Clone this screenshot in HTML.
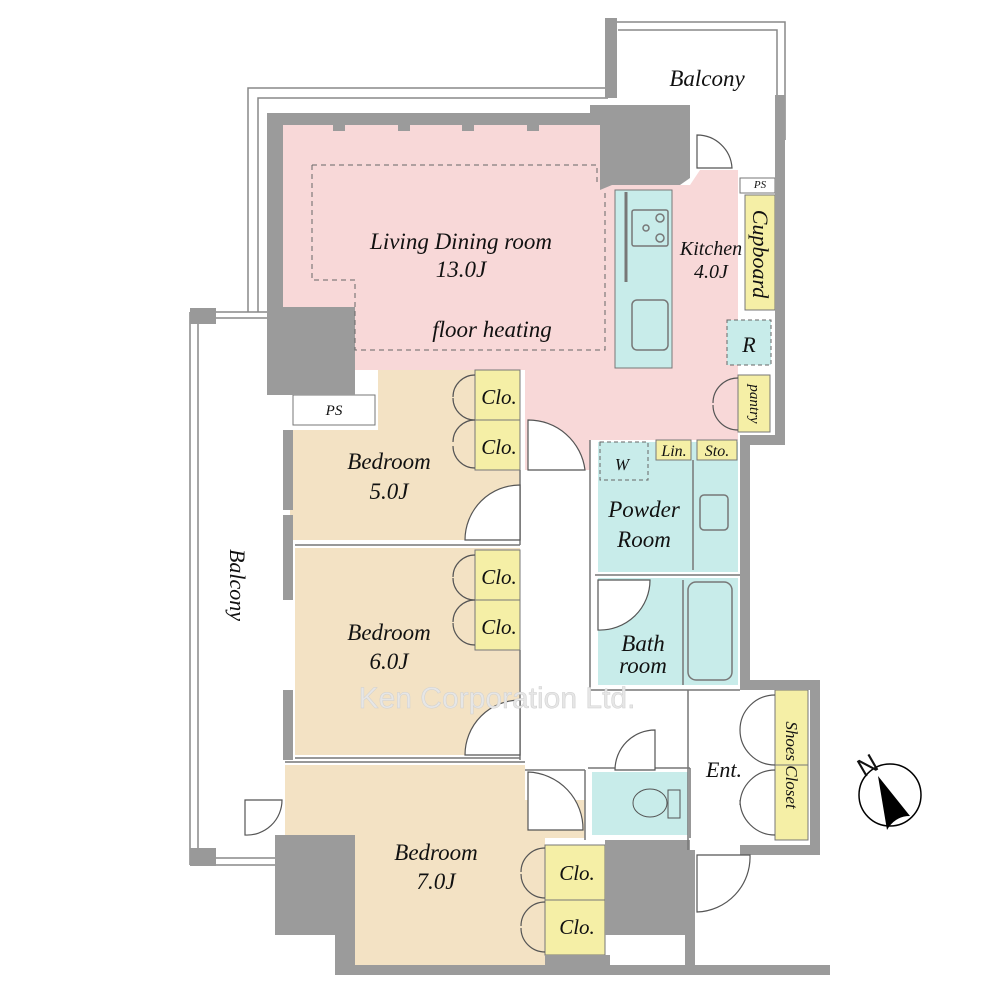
<!DOCTYPE html>
<html><head><meta charset="utf-8"><style>
html,body{margin:0;padding:0;background:#fff}
svg{display:block}
text{font-family:"Liberation Serif",serif;font-style:italic;fill:#111}
</style></head><body>
<svg width="1000" height="1000" viewBox="0 0 1000 1000" xmlns="http://www.w3.org/2000/svg">
<g fill="none" stroke="#888" stroke-width="1.5">
<path d="M248,312 V88 H608"/><path d="M258,312 V98 H608"/>
<path d="M612,22 H785 V140"/><path d="M618,30 H777 V165"/>
<path d="M190,312 V865 M198,318 V858 M190,312 H268 M198,318 H268 M208,858 H283 M208,865 H283"/>
</g>
<rect x="190" y="308" width="26" height="16" fill="#999"/>
<rect x="190" y="848" width="26" height="18" fill="#999"/>
<rect x="605" y="18" width="12" height="80" fill="#999"/>

<polygon points="283,125 600,125 600,185 690,185 700,170 738,170 738,440 590,440 590,470 525,470 525,370 355,370 355,310 283,310" fill="#f8d8d8"/>
<polygon points="290,430 378,430 378,370 520,370 520,540 290,540" fill="#f3e2c4"/>
<rect x="295" y="548" width="225" height="207" fill="#f3e2c4"/>
<polygon points="285,765 525,765 525,800 585,800 585,838 545,838 545,965 355,965 355,935 300,935 300,838 285,838" fill="#f3e2c4"/>
<rect x="598" y="442" width="140" height="130" fill="#c8ecea"/>
<rect x="598" y="578" width="140" height="107" fill="#c8ecea"/>
<rect x="592" y="772" width="96" height="63" fill="#c8ecea"/>
<rect x="615" y="190" width="57" height="178" fill="#c8ecea" stroke="#777"/>
<rect x="727" y="320" width="44" height="45" fill="#c8ecea" stroke="#666" stroke-dasharray="4,3"/>
<g fill="#f5efa6" stroke="#777">
<rect x="745" y="195" width="30" height="115"/>
<rect x="738" y="375" width="32" height="57"/>
<rect x="475" y="370" width="45" height="100"/>
<rect x="475" y="550" width="45" height="100"/>
<rect x="545" y="845" width="60" height="110"/>
<rect x="775" y="690" width="33" height="150"/>
<rect x="656" y="440" width="35" height="20"/>
<rect x="697" y="440" width="40" height="20"/>
</g>
<g stroke="#777"><path d="M475,420 H520 M475,600 H520 M545,900 H605 M775,765 H808"/></g>
<rect x="740" y="178" width="35" height="15" fill="#fff" stroke="#777"/>
<rect x="293" y="395" width="82" height="30" fill="#fff" stroke="#777"/>

<g fill="#9b9b9b">
<rect x="267" y="113" width="16" height="200"/>
<rect x="267" y="113" width="335" height="12"/>
<polygon points="590,105 690,105 690,178 680,185 612,185 600,190 600,125 590,125"/>
<rect x="267" y="307" width="88" height="88"/>
<rect x="775" y="95" width="10" height="348"/>
<rect x="740" y="435" width="45" height="10"/>
<rect x="740" y="440" width="10" height="250"/>
<rect x="740" y="680" width="80" height="10"/>
<rect x="810" y="680" width="10" height="175"/>
<rect x="740" y="845" width="80" height="10"/>
<rect x="283" y="430" width="10" height="80"/>
<rect x="283" y="515" width="10" height="85"/>
<rect x="283" y="690" width="10" height="70"/>
<rect x="275" y="835" width="80" height="100"/>
<rect x="335" y="930" width="20" height="45"/>
<rect x="335" y="965" width="495" height="10"/>
<rect x="605" y="840" width="85" height="95"/>
<rect x="685" y="850" width="10" height="115"/>
<rect x="545" y="955" width="65" height="12"/>
</g>
<g fill="#9b9b9b"><rect x="333" y="113" width="12" height="18"/><rect x="398" y="113" width="12" height="18"/><rect x="462" y="113" width="12" height="18"/><rect x="527" y="113" width="12" height="18"/><rect x="267" y="178" width="14" height="14"/><rect x="267" y="243" width="14" height="14"/></g>

<g fill="none" stroke="#777" stroke-width="1.5">
<path d="M520,470 V545 M295,545 H520 M295,758 H520 M520,650 V760 M285,762 H525 M525,770 H585 M585,770 V840"/>
<path d="M590,440 V690 H740 M595,575 H740 M688,690 V850 M690,768 V838 M588,768 H690"/>
<path d="M693,460 V570 M683,580 V685"/>
<rect x="688" y="582" width="44" height="98" rx="8"/>
<rect x="700" y="495" width="28" height="35" rx="4"/>
<rect x="632" y="210" width="36" height="36" rx="2"/>
<circle cx="660" cy="218" r="4"/><circle cx="660" cy="238" r="4"/><circle cx="646" cy="228" r="3"/>
<rect x="632" y="300" width="36" height="50" rx="5"/>
<path d="M626,192 V282" stroke-width="3"/>
</g>
<rect x="600" y="442" width="48" height="38" fill="none" stroke="#666" stroke-dasharray="4,3"/>
<path d="M312,165 H597 V185 M312,165 V280 H355 V350 H605 V190" fill="none" stroke="#666" stroke-dasharray="5,4"/>
<g fill="#fff" stroke="#555" stroke-width="1.2">
<path d="M528,420 V470 H585 A57,57 0 0 0 528,420 Z"/>
<path d="M520,485 A55,55 0 0 0 465,540 H520 Z"/>
<path d="M520,700 A55,55 0 0 0 465,755 H520 Z"/>
<path d="M528,772 V830 H583 A57,57 0 0 0 528,772 Z"/>
<path d="M598,580 V630 A50,50 0 0 0 650,580 Z"/>
<path d="M615,770 A40,40 0 0 1 655,730 V770 Z"/>
<path d="M697,855 V912 A55,55 0 0 0 750,855 Z"/>
<path d="M282,800 A35,35 0 0 1 245,835 V800 Z" fill="none"/>
<path d="M697,135 V168 H732 A35,35 0 0 0 697,135 Z"/>
</g>
<g fill="none" stroke="#555" stroke-width="1.2">
<path d="M475,375 a22,22 0 0 0 -22,22 M475,420 a22,22 0 0 1 -22,-22 M475,420 a22,22 0 0 0 -22,22 M475,468 a22,22 0 0 1 -22,-22"/>
<path d="M475,555 a22,22 0 0 0 -22,22 M475,600 a22,22 0 0 1 -22,-22 M475,600 a22,22 0 0 0 -22,22 M475,645 a22,22 0 0 1 -22,-22"/>
<path d="M545,848 a24,24 0 0 0 -24,24 M545,898 a24,24 0 0 1 -24,-24 M545,902 a24,24 0 0 0 -24,24 M545,952 a24,24 0 0 1 -24,-24"/>
<path d="M775,695 a35,35 0 0 0 -35,35 M775,765 a35,35 0 0 1 -35,-35 M775,770 a35,35 0 0 0 -35,35 M775,835 a35,35 0 0 1 -35,-35"/>
<path d="M738,378 a25,25 0 0 0 -25,25 M738,430 a25,25 0 0 1 -25,-25"/>
</g>
<ellipse cx="650" cy="803" rx="17" ry="14" fill="none" stroke="#555"/>
<rect x="668" y="790" width="12" height="28" fill="none" stroke="#555"/>

<text x="461" y="249" font-size="23" text-anchor="middle">Living Dining room</text>
<text x="461" y="277" font-size="23" text-anchor="middle">13.0J</text>
<text x="492" y="337" font-size="23" text-anchor="middle">floor heating</text>
<text x="711" y="255" font-size="20" text-anchor="middle">Kitchen</text>
<text x="711" y="278" font-size="20" text-anchor="middle">4.0J</text>
<text x="707" y="86" font-size="23" text-anchor="middle">Balcony</text>
<text x="749" y="352" font-size="22" text-anchor="middle">R</text>
<text x="760" y="188" font-size="11" text-anchor="middle">PS</text>
<text x="334" y="415" font-size="15" text-anchor="middle">PS</text>
<text x="499" y="404" font-size="21" text-anchor="middle">Clo.</text>
<text x="499" y="454" font-size="21" text-anchor="middle">Clo.</text>
<text x="499" y="584" font-size="21" text-anchor="middle">Clo.</text>
<text x="499" y="634" font-size="21" text-anchor="middle">Clo.</text>
<text x="577" y="880" font-size="21" text-anchor="middle">Clo.</text>
<text x="577" y="934" font-size="21" text-anchor="middle">Clo.</text>
<text x="389" y="469" font-size="23" text-anchor="middle">Bedroom</text>
<text x="389" y="499" font-size="23" text-anchor="middle">5.0J</text>
<text x="389" y="640" font-size="23" text-anchor="middle">Bedroom</text>
<text x="389" y="669" font-size="23" text-anchor="middle">6.0J</text>
<text x="436" y="860" font-size="23" text-anchor="middle">Bedroom</text>
<text x="436" y="889" font-size="23" text-anchor="middle">7.0J</text>
<text x="644" y="517" font-size="23" text-anchor="middle">Powder</text>
<text x="644" y="547" font-size="23" text-anchor="middle">Room</text>
<text x="643" y="651" font-size="23" text-anchor="middle">Bath</text>
<text x="643" y="673" font-size="23" text-anchor="middle">room</text>
<text x="724" y="777" font-size="22" text-anchor="middle">Ent.</text>
<text x="622" y="470" font-size="17" text-anchor="middle">W</text>
<text x="674" y="456" font-size="16" text-anchor="middle">Lin.</text>
<text x="717" y="456" font-size="16" text-anchor="middle">Sto.</text>
<text transform="translate(753,254) rotate(90)" font-size="22" text-anchor="middle">Cupboard</text>
<text transform="translate(750,404) rotate(90)" font-size="15" text-anchor="middle">pantry</text>
<text transform="translate(786,765) rotate(90)" font-size="17" text-anchor="middle">Shoes Closet</text>
<text transform="translate(230,585) rotate(90)" font-size="22" text-anchor="middle">Balcony</text>
<text x="497" y="708" font-size="30" text-anchor="middle" style="font-style:normal;font-family:'Liberation Sans',sans-serif;fill:#e6e6e6;stroke:#d0d0d0;stroke-width:0.5">Ken Corporation Ltd.</text>
<circle cx="890" cy="795" r="31" fill="#fff" stroke="#000" stroke-width="1.5"/>
<path d="M878,776 L910,816 Q895,816 887,830 Z" fill="#000"/>
<text transform="translate(872,773) rotate(-30)" font-size="26" style="font-style:normal;font-family:'Liberation Sans',sans-serif" text-anchor="middle">N</text>
</svg>
</body></html>
